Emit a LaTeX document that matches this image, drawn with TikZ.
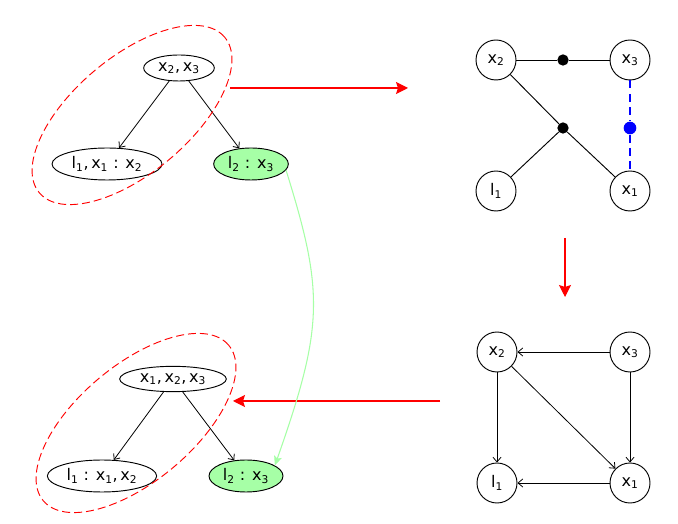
\documentclass[tikz,border=0pt]{standalone}
\usepackage{fontspec}
\setmainfont{DejaVu Sans}
\usepackage{tkz-euclide}
\usetikzlibrary{shapes.geometric,arrows.meta}
\newcommand{\xv}[1]{x\textsubscript{#1}}
\newcommand{\lv}[1]{l\textsubscript{#1}}
\tikzset{
	bag/.style={ellipse, draw, inner sep=0pt, line width=0.7pt},
	chosen/.style={bag, fill=green!35},
	var/.style={circle, draw, minimum size=30pt, inner sep=0pt, line width=0.7pt},
	dot/.style={circle, fill, inner sep=0pt, minimum size=8.5pt},
	step arrow/.style={red, line width=0.8pt, -{Stealth[length=9pt, width=9pt, inset=1.5pt]}},
	tree edge/.style={line width=0.6pt, -{Straight Barb[length=3.5pt, width=6pt]}},
	cover/.style={red, line width=0.7pt, dash pattern=on 6pt off 3pt}
}
\begin{document}
\begin{tikzpicture}[x=0.75pt, y=0.75pt, font=\fontsize{12}{14}\selectfont]
	\useasboundingbox (0,0) rectangle (678,524);
	\tkzDefPoints{179/456/T1, 107/360/T2, 251/360/T3, 173/145/B1, 102/48/B2, 246/48/B3}
	\tkzDefPoints{496/464/U2, 630/464/U3, 496/333/U4, 630/333/U1, 563/464/M1, 563/396/M2, 630/396/M3}
	\tkzDefPoints{497/172/V2, 630/172/V3, 497/41/V4, 630/41/V1}
	\tkzDefPoints{132/409/E1, 136/101/E2}
	\tkzDefPoints{230/436/A1, 408/436/A2, 565/286/A3, 565/227/A4, 440/123/A5, 233/123/A6}
	
	\node[bag, minimum width=53pt, minimum height=19.5pt] (t1) at (T1) {\xv2,\,\xv3};
	\node[bag, minimum width=82.5pt, minimum height=24pt] (t2) at (T2) {\lv1,\,\xv1 : \xv2};
	\node[chosen, minimum width=56pt, minimum height=24pt] (t3) at (T3) {\lv2 : \xv3};
	\node[bag, minimum width=80pt, minimum height=19pt] (b1) at (B1) {\xv1,\,\xv2,\,\xv3};
	\node[bag, minimum width=82pt, minimum height=24pt] (b2) at (B2) {\lv1 : \xv1,\,\xv2};
	\node[chosen, minimum width=55.5pt, minimum height=24pt] (b3) at (B3) {\lv2 : \xv3};
	
	\draw[tree edge] (t1) -- (t2);
	\draw[tree edge] (t1) -- (t3);
	\draw[tree edge] (b1) -- (b2);
	\draw[tree edge] (b1) -- (b3);
	
	\draw[cover, rotate around={40:(E1)}] (E1) ellipse [x radius=121, y radius=58];
	\draw[cover, rotate around={40:(E2)}] (E2) ellipse [x radius=121, y radius=58];
	
	\node[var] (u2) at (U2) {\xv2};
	\node[var] (u3) at (U3) {\xv3};
	\node[var] (u4) at (U4) {\lv1};
	\node[var] (u1) at (U1) {\xv1};
	\node[dot] (m1) at (M1) {};
	\node[dot] (m2) at (M2) {};
	\node[dot, blue, minimum size=9.5pt] (m3) at (M3) {};
	
	\draw[line width=0.7pt] (u2) -- (m1) -- (u3);
	\draw[line width=0.7pt] (u2) -- (m2) -- (u1);
	\draw[line width=0.7pt] (u4) -- (m2);
	\draw[blue, line width=1.2pt, dash pattern=on 6pt off 4pt] (u3) -- (m3) -- (u1);
	
	\node[var] (v2) at (V2) {\xv2};
	\node[var] (v3) at (V3) {\xv3};
	\node[var] (v4) at (V4) {\lv1};
	\node[var] (v1) at (V1) {\xv1};
	
	\draw[tree edge] (v3) -- (v2);
	\draw[tree edge] (v2) -- (v4);
	\draw[tree edge] (v2) -- (v1);
	\draw[tree edge] (v3) -- (v1);
	\draw[tree edge] (v1) -- (v4);
	
	\draw[step arrow] (A1) -- (A2);
	\draw[step arrow] (A3) -- (A4);
	\draw[step arrow] (A5) -- (A6);
	
	\draw[green!35, line width=0.8pt, -{Stealth[length=7pt, width=6pt, inset=1.5pt]}] (t3.-10) .. controls (324,232) and (324,198) .. (b3.20);
\end{tikzpicture}
\end{document}
